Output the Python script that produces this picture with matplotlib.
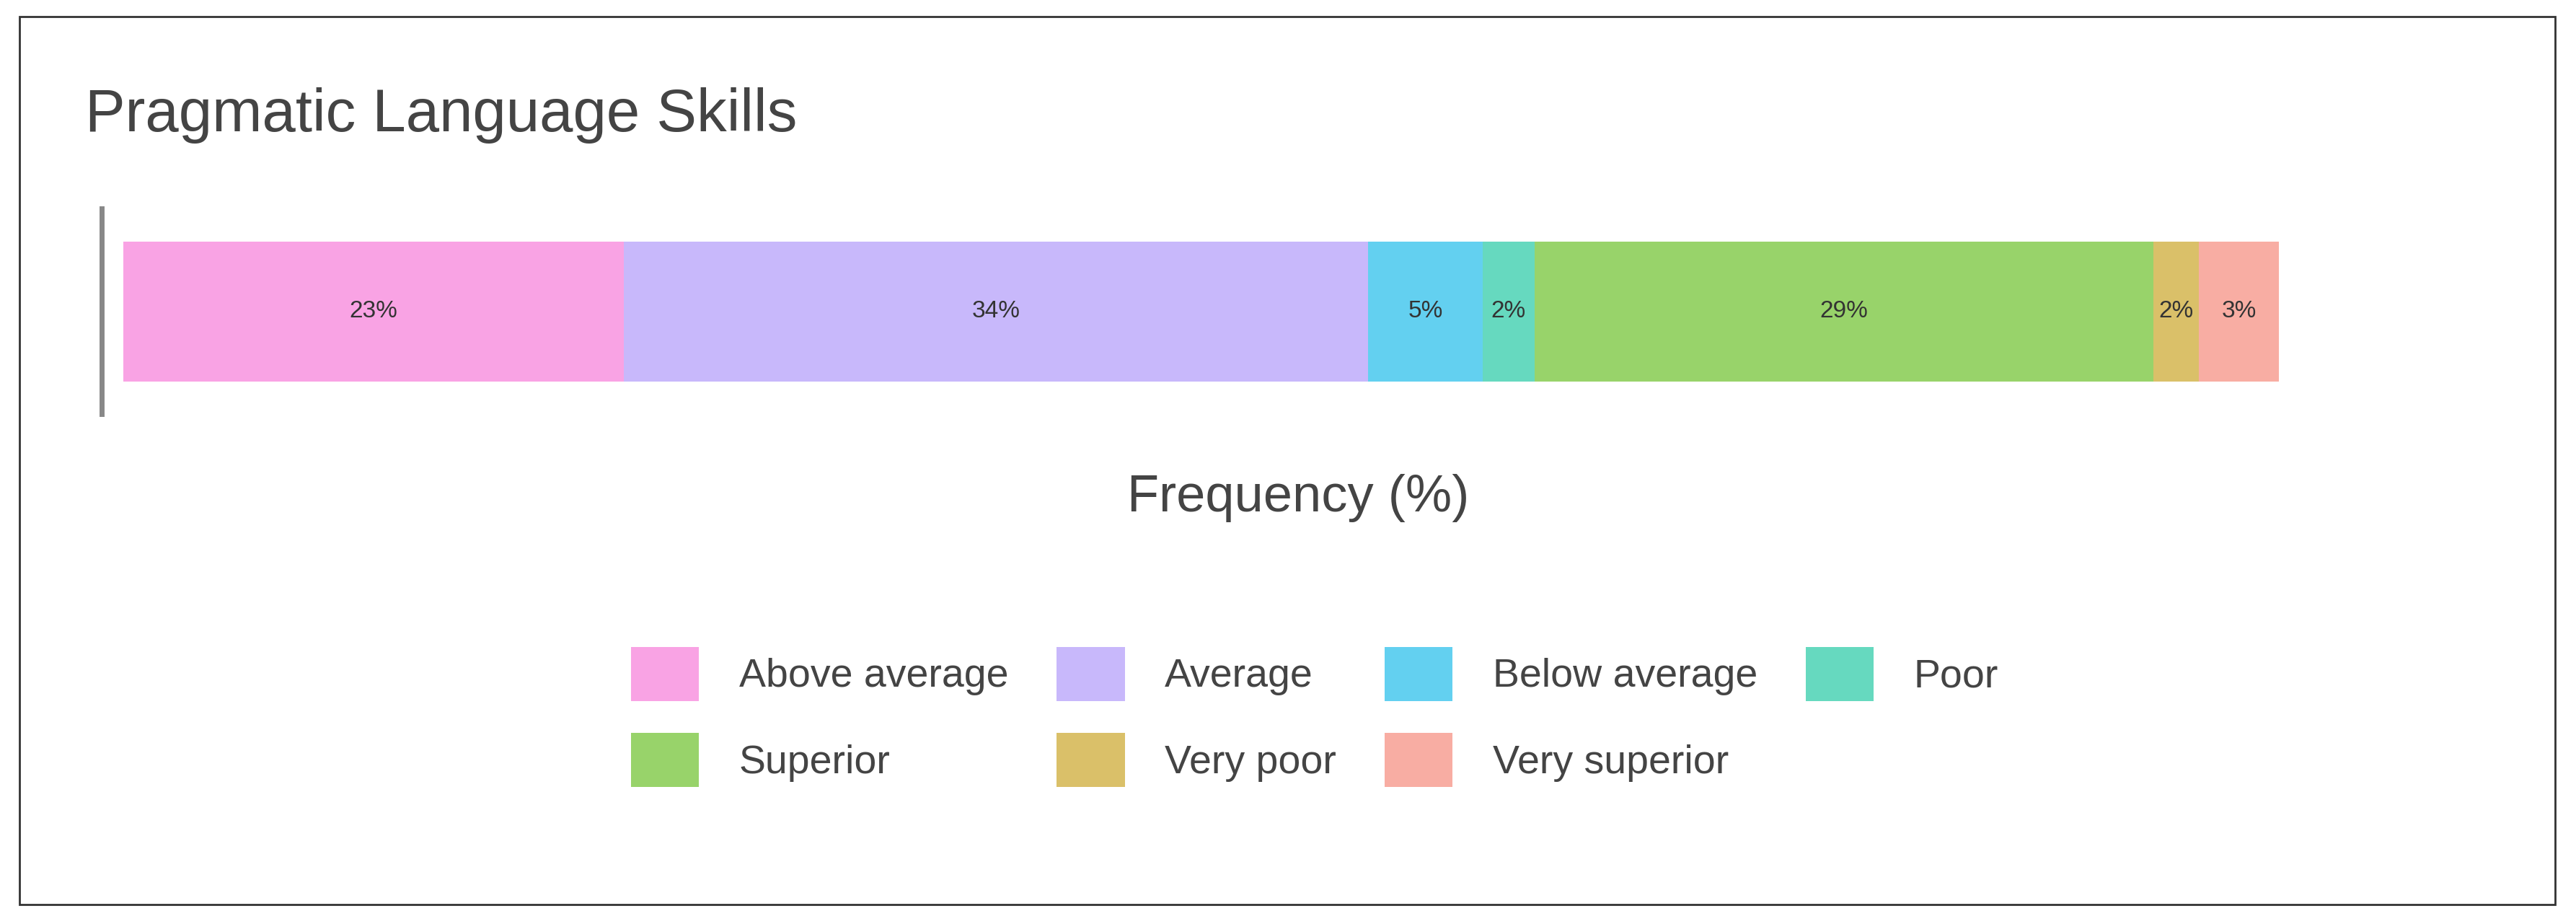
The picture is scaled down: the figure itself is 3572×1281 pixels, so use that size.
import matplotlib
matplotlib.use("Agg")
import matplotlib.pyplot as plt
from matplotlib.patches import Rectangle, Patch

plt.rcParams['font.family'] = ['Liberation Sans', 'DejaVu Sans']

categories = ["Above average", "Average", "Below average", "Poor", "Superior", "Very poor", "Very superior"]
values = [23.2, 34.5, 5.3, 2.4, 28.7, 2.1, 3.7]
labels = ["23%", "34%", "5%", "2%", "29%", "2%", "3%"]
colors = ["#F9A3E4", "#C8B8FB", "#63D0F0", "#66D9BF", "#98D36A", "#DAC069", "#F8ADA3"]

W, H = 1568, 562
fig = plt.figure(figsize=(35.73, 12.81), dpi=100)
fig.patches.append(Rectangle((12/W, 1-550/H), (1555-12)/W, (550-10)/H, transform=fig.transFigure,
                             fill=False, edgecolor="#333333", linewidth=2))
fig.text(52/W, 1-70/H, "Pragmatic Language Skills", fontsize=60, color="#444444", va="center", ha="left")

ax = fig.add_axes([62/W, 1-252/H, (1530-62)/W, 125/H])
left = 0
for v, l, c in zip(values, labels, colors):
    ax.barh(0.5, v, left=left, height=0.68, color=c, edgecolor="none")
    ax.text(left + v/2, 0.5, l, ha="center", va="center", fontsize=24, color="#333333")
    left += v
ax.set_xlim(-13*100/1313, (1530-75)*100/1313)
ax.set_ylim(0, 1)
for s in ["top", "right", "bottom"]:
    ax.spines[s].set_visible(False)
ax.spines["left"].set_color("#888888")
ax.spines["left"].set_linewidth(5)
ax.set_xticks([]); ax.set_yticks([])

fig.text(790/W, 1-303/H, "Frequency (%)", fontsize=52, color="#444444", ha="center", va="center")

order = [0, 4, 1, 5, 2, 6, 3]
handles = [Patch(facecolor=colors[i], edgecolor="none", label=categories[i]) for i in order]
fig.legend(handles=handles, ncol=4, loc="center", bbox_to_anchor=(800/W, 1-436/H), frameon=False,
           fontsize=40, handlelength=1.7, handleheight=1.7, handletextpad=1.0, columnspacing=1.2,
           labelspacing=0.8, labelcolor="#444444")
fig.savefig("out.png", dpi=100)
